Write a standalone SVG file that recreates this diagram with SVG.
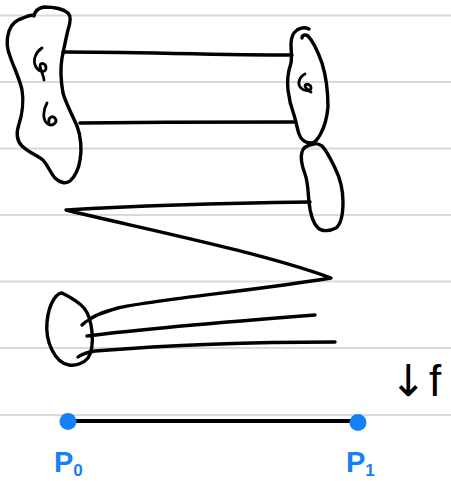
<svg xmlns="http://www.w3.org/2000/svg" width="451" height="481" viewBox="0 0 451 481">
<style>
.rule{stroke:#dadada;stroke-width:2;fill:none}
.ink{stroke:#000;stroke-width:3.4;fill:none;stroke-linecap:round;stroke-linejoin:round}
.thin{stroke:#000;stroke-width:2.8;fill:none;stroke-linecap:round;stroke-linejoin:round}
.pt{fill:#1580f8}
.lbl{font-family:"Liberation Sans",Arial,sans-serif;font-weight:bold;fill:#1580f8}
.mk{font-family:"DejaVu Sans","Liberation Sans",sans-serif;fill:#000}
</style>
<rect width="451" height="481" fill="#fff"/>
<g id="ruling">
<line class="rule" x1="0" y1="15.5" x2="451" y2="15.5"/>
<line class="rule" x1="0" y1="82" x2="451" y2="82"/>
<line class="rule" x1="0" y1="148.5" x2="451" y2="148.5"/>
<line class="rule" x1="0" y1="215" x2="451" y2="215"/>
<line class="rule" x1="0" y1="281.5" x2="451" y2="281.5"/>
<line class="rule" x1="0" y1="348" x2="451" y2="348"/>
<line class="rule" x1="0" y1="415" x2="451" y2="415"/>
</g>
<g id="left-blob">
<path class="ink" d="M34,16 C35,11 38,8 44,7 C52,7 62,8 68,13 C72,17 70,24 68,30 C66,38 64,48 62,58 C60,70 61,82 63,93 C66,104 72,114 77,126 C81,136 82,150 80,160 C79,168 75,177 70,181 C66,184 60,183 55,178 C51,174 49,167 43,160 C38,156 28,152 22,146 C17,141 16,133 19,124 C22,115 24,101 22,90 C20,80 15,70 11,59 C7,50 6,40 9,31 C11,25 16,20 23,18 C27,16 31,15 34,15"/>
<path class="thin" d="M42,48 C36,52 32,60 36,67 C39,72 46,73 46,68 C46,63 40,62 40,66 C41,72 44,76 44,80"/>
<path class="thin" d="M47,103 C43,110 42,120 48,124 C53,127 58,122 55,118 C52,115 48,118 49,122"/>
</g>
<g id="right-top-blob">
<path class="ink" d="M291,44 C291,38 293,33 297,30 C300,28 305,27 309,29 M302,38 C302,35 305,34 308,36 C313,41 318,52 322,63 C326,76 328,92 328,107 C327,118 324,128 320,135 C317,140 315,143 311,143 C306,143 301,140 299,134 C297,128 296,121 294,115 C291,107 289,99 288,90 C287,82 288,72 291,63 C292,57 291,50 291,44"/>
<path class="thin" d="M305,74 C299,77 297,84 301,88 C305,92 311,91 311,88 C311,84 305,83 305,86 C306,89 309,91 311,92"/>
</g>
<g id="right-bottom-blob">
<path class="ink" d="M314,144 C308,145 303,147 302,152 C300,158 302,166 305,174 C308,182 308,192 309,202 C310,212 312,222 318,228 C322,232 330,231 336,228 C341,224 343,214 343,202 C343,190 340,178 335,168 C331,160 327,151 322,146 C319,144 316,143 314,144"/>
</g>
<g id="small-blob">
<path class="ink" d="M62,293 C70,297 78,301 84,308 C89,314 91,322 92,332 C93,343 92,352 88,358 C84,363 76,366 69,365 C62,364 56,358 52,350 C48,342 46,332 47,322 C48,312 50,305 54,299 C56,296 59,293 62,293"/>
</g>
<g id="connectors">
<path class="ink" d="M63,52 C130,52 220,55 292,55"/>
<path class="ink" d="M80,123 C150,122 230,122 295,122"/>
<path class="ink" d="M310,202 C240,203 150,205 66,210 C140,228 260,252 331,278 C260,290 150,300 118,308 C100,313 92,317 89,320 C86,321 84,323 82,325"/>
<path class="ink" d="M87,336 C150,328 250,320 315,315"/>
<path class="ink" d="M78,357 C82,354 88,352 95,351 C170,345 260,342 335,342"/>
</g>
<g id="segment">
<line x1="68" y1="421" x2="358" y2="421" stroke="#000" stroke-width="4"/>
<circle class="pt" cx="68" cy="421.5" r="8.5"/>
<circle class="pt" cx="358" cy="422.5" r="8.5"/>
</g>
<g id="labels">
<text class="lbl" x="54" y="472" font-size="29">P<tspan font-size="17" dy="4">0</tspan></text>
<text class="lbl" x="346" y="472" font-size="29">P<tspan font-size="17" dy="4">1</tspan></text>
<text class="mk" x="390" y="396" font-size="44">↓<tspan font-family="Liberation Sans" dx="2">f</tspan></text>
</g>
</svg>
